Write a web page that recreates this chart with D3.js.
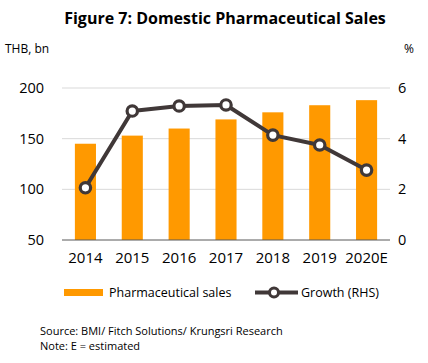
<!DOCTYPE html>
<html><head><meta charset="utf-8">
<script src="https://cdn.jsdelivr.net/npm/d3@7"></script>
<style>body{margin:0;background:#fff}svg{display:block}</style>
</head><body>
<svg id="c" width="428" height="363"></svg>
<script>
const years = ["2014","2015","2016","2017","2018","2019","2020E"];
const sales = [145, 153, 160, 169, 176, 183, 188];
const growth = [2.06, 5.09, 5.29, 5.33, 4.14, 3.75, 2.76];
const leftTicks = [50, 100, 150, 200];
const rightTicks = [0, 2, 4, 6];

const svg = d3.select("#c");
const font = "'Open Sans', sans-serif";
const m = {l:62, r:390, t:88, b:240};
const x = d3.scaleBand().domain(years).range([m.l, m.r]).paddingInner(0.55).paddingOuter(0.275);
const yL = d3.scaleLinear().domain([50,200]).range([m.b, m.t]);
const yR = d3.scaleLinear().domain([0,6]).range([m.b, m.t]);

svg.append("text").attr("x",225).attr("y",24).attr("text-anchor","middle")
  .attr("font-family",font).attr("font-weight","bold").attr("font-size",16)
  .attr("fill","#000").text("Figure 7: Domestic Pharmaceutical Sales");

// grid
svg.append("g").selectAll("line").data(leftTicks.slice(1)).join("line")
  .attr("x1",m.l).attr("x2",m.r).attr("y1",d=>yL(d)).attr("y2",d=>yL(d))
  .attr("stroke","#d9d9d9").attr("stroke-width",1);

// bars
svg.append("g").selectAll("rect").data(sales).join("rect")
  .attr("x",(d,i)=>x(years[i])).attr("width",x.bandwidth())
  .attr("y",d=>yL(d)).attr("height",d=>yL(50)-yL(d)).attr("fill","#FF9900");

// baseline
svg.append("line").attr("x1",m.l).attr("x2",m.r).attr("y1",m.b).attr("y2",m.b)
  .attr("stroke","#595959").attr("stroke-width",1);

// axes
const axL = d3.axisLeft(yL).tickValues(leftTicks).tickSize(0).tickPadding(0).tickFormat(d3.format("d"));
const gL = svg.append("g").attr("transform","translate(44,0)").call(axL);
const axR = d3.axisRight(yR).tickValues(rightTicks).tickSize(0).tickPadding(0).tickFormat(d3.format("d"));
const gR = svg.append("g").attr("transform","translate(398,0)").call(axR);
const axB = d3.axisBottom(x).tickSize(0).tickPadding(0);
const gB = svg.append("g").attr("transform","translate(0,252)").call(axB);
[gL,gR,gB].forEach(g=>{
  g.select(".domain").remove();
  g.selectAll("text").attr("font-family",font).attr("font-size",14.5).attr("fill","#000");
});
gB.selectAll("text").attr("dy","0.71em").attr("font-size",15);

svg.append("text").attr("x",5).attr("y",53).attr("font-family",font).attr("font-size",12).text("THB, bn");
svg.append("text").attr("x",414).attr("y",53).attr("text-anchor","end").attr("font-family",font).attr("font-size",12).text("%");

// line
const line = d3.line().x((d,i)=>x(years[i])+x.bandwidth()/2).y(d=>yR(d));
svg.append("path").datum(growth).attr("d",line).attr("fill","none")
  .attr("stroke","#403838").attr("stroke-width",4).attr("stroke-linejoin","round");
svg.append("g").selectAll("circle").data(growth).join("circle")
  .attr("cx",(d,i)=>x(years[i])+x.bandwidth()/2).attr("cy",d=>yR(d)).attr("r",5.2)
  .attr("fill","#fff").attr("stroke","#403838").attr("stroke-width",3.2);

// legend
svg.append("rect").attr("x",64).attr("y",289).attr("width",39).attr("height",7).attr("fill","#FF9900");
svg.append("text").attr("x",109).attr("y",297).attr("font-family",font).attr("font-size",12.5).text("Pharmaceutical sales");
svg.append("line").attr("x1",255).attr("x2",298).attr("y1",292.5).attr("y2",292.5).attr("stroke","#403838").attr("stroke-width",4);
svg.append("circle").attr("cx",274).attr("cy",292.5).attr("r",4.5).attr("fill","#fff").attr("stroke","#403838").attr("stroke-width",3);
svg.append("text").attr("x",301).attr("y",297).attr("font-family",font).attr("font-size",12.5).text("Growth (RHS)");

svg.append("text").attr("x",40).attr("y",335).attr("font-family",font).attr("font-size",11).text("Source: BMI/ Fitch Solutions/ Krungsri Research");
svg.append("text").attr("x",40).attr("y",350).attr("font-family",font).attr("font-size",11).text("Note: E = estimated");
</script>
</body></html>
